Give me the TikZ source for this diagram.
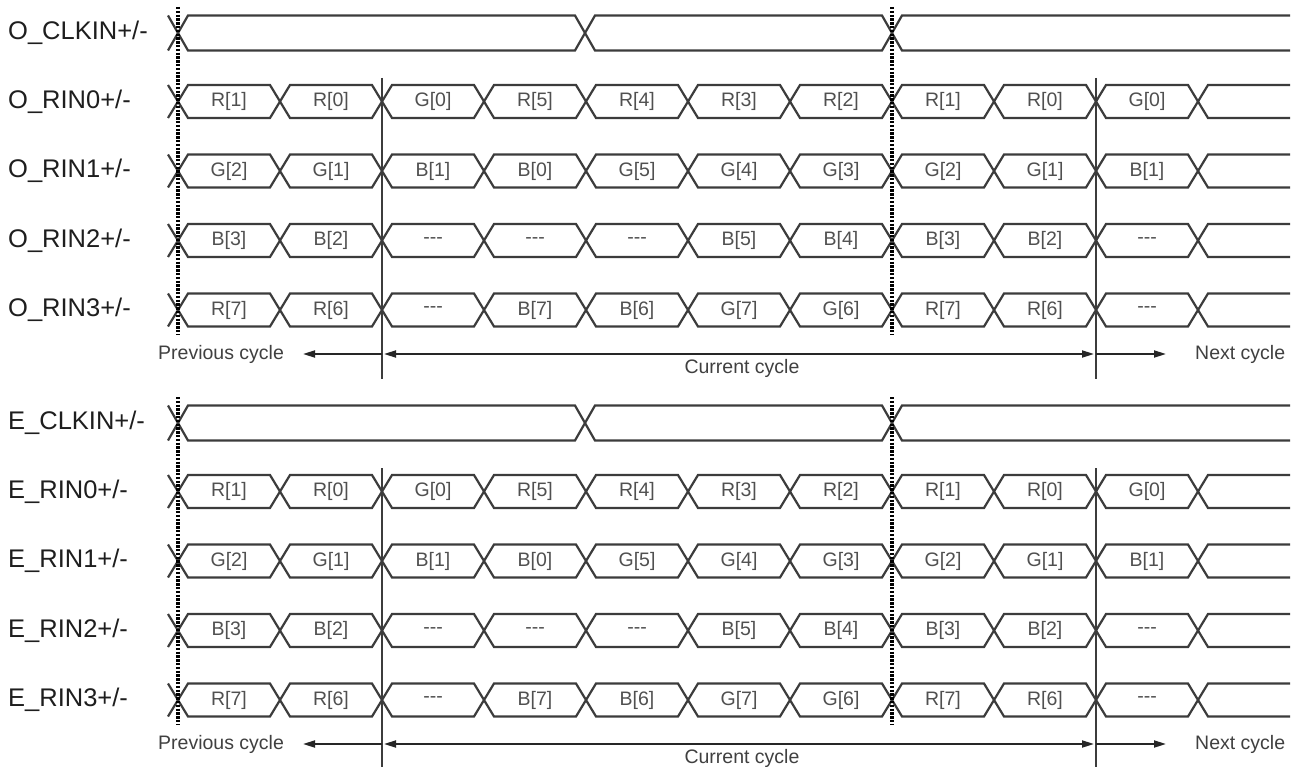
\documentclass[tikz,border=0pt]{standalone}
\usepackage{fontspec}
\setmainfont{Liberation Sans}
\usetikzlibrary{arrows.meta}
\definecolor{wavec}{HTML}{3C3C3C}
\definecolor{labc}{HTML}{1E1E1E}
\definecolor{bitc}{HTML}{505050}
\definecolor{cycc}{HTML}{404040}
\newcommand\dsh{-{}-{}-}
\newcommand\datarow[4]{%
  \node[siglabel] (#1) at (8,#3) {#2};
  \draw[wave] (168,#3-16.5) -- (178,#3) -- (168,#3+16.5);
  \foreach \t [count=\i from 0] in {#4} {
    \pgfmathsetmacro\xa{178+102*\i}
    \pgfmathsetmacro\xb{\xa+102}
    \draw[wave] (\xa,#3) -- (\xa+10,#3-16.5) -- (\xb-10,#3-16.5) -- (\xb,#3)
      -- (\xb-10,#3+16.5) -- (\xa+10,#3+16.5) -- cycle;
    \node[bit] (#1-\i) at ({(\xa+\xb)/2},#3) {\t};
  }
  \draw[wave] (1290,#3-16.5) -- (1208,#3-16.5) -- (1198,#3) -- (1208,#3+16.5) -- (1290,#3+16.5);
}
\newcommand\clkrow[3]{%
  \node[siglabel] (#1) at (8,#3) {#2};
  \draw[wave] (168,#3-17.5) -- (178,#3) -- (168,#3+17.5);
  \draw[wave] (178,#3) -- (188,#3-17.5) -- (575,#3-17.5) -- (585,#3) -- (575,#3+17.5) -- (188,#3+17.5) -- cycle;
  \draw[wave] (585,#3) -- (595,#3-17.5) -- (882,#3-17.5) -- (892,#3) -- (882,#3+17.5) -- (595,#3+17.5) -- cycle;
  \draw[wave] (1290,#3-17.5) -- (902,#3-17.5) -- (892,#3) -- (902,#3+17.5) -- (1290,#3+17.5);
}
\newcommand\panel[2]{% #1 prefix, #2 y offset
  \clkrow{#1clk}{#1\_CLKIN+/-}{#2+33}
  \datarow{#1r0}{#1\_RIN0+/-}{#2+101.5}{R[1],R[0],G[0],R[5],R[4],R[3],R[2],R[1],R[0],G[0]}
  \datarow{#1r1}{#1\_RIN1+/-}{#2+171}{G[2],G[1],B[1],B[0],G[5],G[4],G[3],G[2],G[1],B[1]}
  \datarow{#1r2}{#1\_RIN2+/-}{#2+240.5}{B[3],B[2],\dsh,\dsh,\dsh,B[5],B[4],B[3],B[2],\dsh}
  \datarow{#1r3}{#1\_RIN3+/-}{#2+310}{R[7],R[6],\dsh,B[7],B[6],G[7],G[6],R[7],R[6],\dsh}
  \coordinate (#1d1a) at (178,#2+7);   \coordinate (#1d1b) at (178,#2+335);
  \coordinate (#1d2a) at (892,#2+7);   \coordinate (#1d2b) at (892,#2+335);
  \coordinate (#1s1a) at (382,#2+78);  \coordinate (#1s1b) at (382,#2+379);
  \coordinate (#1s2a) at (1096,#2+78); \coordinate (#1s2b) at (1096,#2+379);
  \draw[dotline] (#1d1a) -- (#1d1b);
  \draw[dotline] (#1d2a) -- (#1d2b);
  \draw[solidline] (#1s1a) -- (#1s1b);
  \draw[solidline] (#1s2a) -- (#1s2b);
  \coordinate (#1pA) at (382,#2+354);  \coordinate (#1pB) at (303,#2+354);
  \coordinate (#1cA) at (384,#2+354);  \coordinate (#1cB) at (1094,#2+354);
  \coordinate (#1nA) at (1096,#2+354); \coordinate (#1nB) at (1166,#2+354);
  \draw[cycarrow,-{Triangle[length=12pt,width=7pt]}] (#1pA) -- (#1pB);
  \draw[cycarrow,{Triangle[length=12pt,width=7pt]}-{Triangle[length=12pt,width=7pt]}] (#1cA) -- (#1cB);
  \draw[cycarrow,-{Triangle[length=12pt,width=7pt]}] (#1nA) -- (#1nB);
  \node[cyctext,anchor=west] (#1prev) at (158,#2+354) {Previous cycle};
  \node[cyctext] (#1cur) at (742,#2+368) {Current cycle};
  \node[cyctext,anchor=west] (#1next) at (1195,#2+354) {Next cycle};
}
\begin{document}
\begin{tikzpicture}[x=1pt,y=-1pt,
  wave/.style={draw=wavec,line width=2.2pt,line join=miter},
  siglabel/.style={anchor=west,inner sep=0pt,text=labc,font=\fontsize{25.5}{30}\selectfont},
  bit/.style={inner sep=0pt,text=bitc,font=\fontsize{19.5}{23}\selectfont},
  cyctext/.style={inner sep=0pt,text=cycc,font=\fontsize{19.5}{23}\selectfont},
  dotline/.style={draw=black,line width=3.2pt,dash pattern=on 2.4pt off 1.4pt},
  solidline/.style={draw=wavec,line width=2pt},
  cycarrow/.style={draw=black!85,line width=1.8pt}]
\useasboundingbox (0,0) rectangle (1297,767);
\fill[white] (0,0) rectangle (1297,767);
\panel{O}{0}
\panel{E}{390}
\end{tikzpicture}
\end{document}
